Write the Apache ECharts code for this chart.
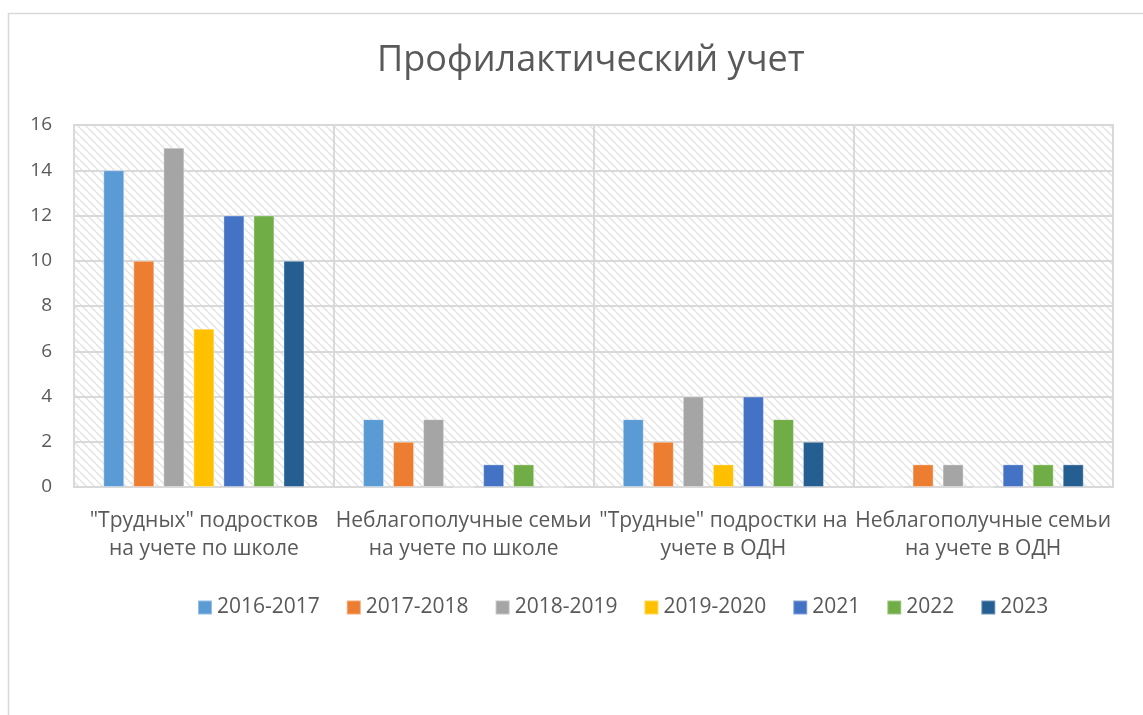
<!DOCTYPE html>
<html><head><meta charset="utf-8">
<script src="https://cdn.jsdelivr.net/npm/echarts@6/dist/echarts.min.js"></script>
<style>html,body{margin:0;padding:0;background:#fff}#c{width:1143px;height:715px}</style>
</head><body><div id="c"></div>
<script>
var categories = ['"Трудных" подростков\nна учете по школе', 'Неблагополучные семьи\nна учете по школе', '"Трудные" подростки на\nучете в ОДН', 'Неблагополучные семьи\nна учете в ОДН'];
var seriesNames = ['2016-2017', '2017-2018', '2018-2019', '2019-2020', '2021', '2022', '2023'];
var s2016 = [14, 3, 3, 0];
var s2017 = [10, 2, 2, 1];
var s2018 = [15, 3, 4, 1];
var s2019 = [7, 0, 1, 0];
var s2021 = [12, 1, 4, 1];
var s2022 = [12, 1, 3, 1];
var s2023 = [10, 0, 2, 1];
var yTicks = [0, 2, 4, 6, 8, 10, 12, 14, 16];
var colors = ['#5B9BD5', '#ED7D31', '#A5A5A5', '#FFC000', '#4472C4', '#70AD47', '#255E91'];
var values = [s2016, s2017, s2018, s2019, s2021, s2022, s2023];

var pc = document.createElement('canvas');
pc.width = 8; pc.height = 8;
var ctx = pc.getContext('2d');
ctx.fillStyle = '#ffffff'; ctx.fillRect(0,0,8,8);
ctx.strokeStyle = '#e6e6e6'; ctx.lineWidth = 1.6;
[-8, 0, 8].forEach(function(o){ ctx.beginPath(); ctx.moveTo(o,0); ctx.lineTo(o+8,8); ctx.stroke(); });

var font = 'Open Sans';
var chart = echarts.init(document.getElementById('c'));
chart.setOption({
  backgroundColor: '#ffffff',
  animation: false,
  title: {text: 'Профилактический учет', left: 372, top: 38,
    textStyle: {fontFamily: font, fontSize: 36, fontWeight: 'normal', color: '#595959'}},
  graphic: [{type: 'rect', shape: {x: 8.5, y: 13.5, width: 1300, height: 900}, silent: true,
    style: {fill: 'none', stroke: '#d9d9d9', lineWidth: 1.5}}],
  legend: {left: 192, top: 592, itemWidth: 14, itemHeight: 14, itemGap: 26,
    textStyle: {fontFamily: font, fontSize: 21, color: '#595959', padding: [0,0,0,0]},
    data: seriesNames.map(function(n){ return {name: n, icon: 'rect'}; })},
  grid: {left: 74, top: 125, right: 30, bottom: 228, show: true, borderColor: '#d9d9d9', borderWidth: 2,
    backgroundColor: {image: pc, repeat: 'repeat'}},
  xAxis: {type: 'category', data: categories,
    axisLine: {lineStyle: {color: '#d9d9d9', width: 2}}, axisTick: {show: false},
    splitLine: {show: true, lineStyle: {color: '#d9d9d9', width: 2}},
    axisLabel: {fontFamily: font, fontSize: 21, color: '#595959', lineHeight: 28, margin: 20, interval: 0}},
  yAxis: {type: 'value', min: 0, max: 16, interval: 2,
    axisLine: {show: false}, axisTick: {show: false},
    splitLine: {lineStyle: {color: '#d9d9d9', width: 2}},
    axisLabel: {fontFamily: font, fontSize: 19, color: '#595959', margin: 22}},
  series: seriesNames.map(function(n, i){
    return {name: n, type: 'bar', data: values[i], barWidth: 21, barGap: '43%',
      itemStyle: {color: colors[i], borderColor: 'rgba(255,255,255,0.35)', borderWidth: 1}};
  })
});
</script></body></html>
